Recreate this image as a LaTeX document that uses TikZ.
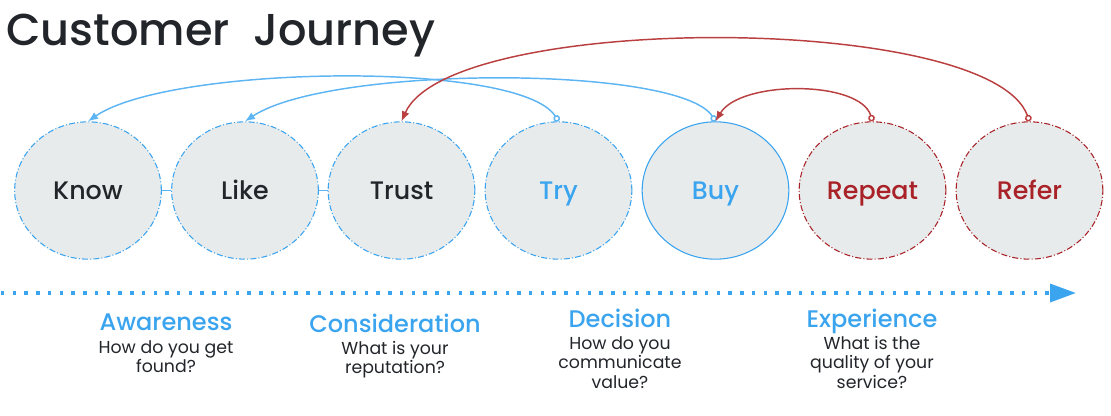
\documentclass[tikz,border=0pt]{standalone}
\usepackage{fontspec}
\setmainfont{Poppins}
\newfontfamily\medfont{Poppins Medium}
\usetikzlibrary{arrows.meta,shapes.geometric}

\definecolor{jblue}{HTML}{3BA4EF}
\definecolor{jlink}{HTML}{5DB5F3}
\definecolor{jred}{HTML}{A82228}
\definecolor{jredlink}{HTML}{BA3F40}
\definecolor{jfill}{HTML}{E8EBEC}
\definecolor{jdark}{HTML}{22252A}

\tikzset{
  stage/.style={ellipse, fill=jfill, draw=jblue, line width=0.8pt,
    minimum width=110pt, minimum height=103pt, inner sep=0pt,
    text height=13pt, text depth=0pt,
    font=\medfont\fontsize{19}{21}\selectfont, text=jdark},
  dashdot/.style={dash pattern=on 4.5pt off 1.6pt on 0.8pt off 1.6pt},
  redstage/.style={stage, dashdot, draw=jred, text=jred},
  bluelink/.style={jlink, line width=1.1pt,
    {Circle[open,length=5pt]}-{Latex[length=7.5pt,width=6pt]}},
  redlink/.style={bluelink, jredlink},
  timeline/.style={jblue, line width=2.6pt, dash pattern=on 2.6pt off 6.2pt,
    -{Triangle[length=19.5pt,width=13.5pt]}},
  phase/.style={anchor=base, inner sep=0pt, text=jblue,
    font=\medfont\fontsize{18}{20}\selectfont},
  question/.style={anchor=north, align=center, inner sep=0pt, text=jdark,
    font=\fontsize{13}{14.6}\selectfont}
}

\begin{document}
\begin{tikzpicture}[x=0.75pt, y=-0.75pt]
  \useasboundingbox (0,0) rectangle (1111,415);
  % TITLE
  \node[anchor=base west, inner sep=0pt, text=jdark,
    font=\medfont\fontsize{33.5}{40}\selectfont] (title) at (6,45) {Customer\ \ Journey};
  % STAGES
  % -- blue, dash dotted
  \node[stage, dashdot] (know)  at (88,190.5)    {Know};
  \node[stage, dashdot] (like)  at (245,190.5)   {Like};
  \node[stage, dashdot] (trust) at (401.5,190.5) {Trust};
  \node[stage, dashdot, text=jblue] (try) at (558.5,190.5) {Try};
  % -- blue, solid
  \node[stage, text=jblue] (buy) at (715.5,190.5) {Buy};
  % -- red, dash dotted
  \node[redstage] (repeat) at (872.5,190.5)  {Repeat};
  \node[redstage] (refer)  at (1029.5,190.5) {Refer};
  % -- short joints
  \draw[jlink, line width=1pt] (know) -- (like);
  \draw[jlink, line width=1pt] (like) -- (trust);
  % LOOPS BACK
  \draw[bluelink] (try.north) .. controls (520,60) and (170,65) .. (know.north);
  \draw[bluelink] (buy.north) .. controls (680,65) and (330,65) .. (like.north);
  \draw[redlink] (refer.north) .. controls (990,12) and (450,12) .. (trust.north);
  \draw[redlink] (repeat.north) .. controls (860,80) and (740,80) .. (buy.north);
  % TIMELINE
  \coordinate (tl start) at (1,293);
  \coordinate (tl end) at (1076,293);
  \draw[timeline] (tl start) -- (tl end);
  % PHASES
  \node[phase] (awareness) at (166,330.5) {Awareness};
  \node[question] (awareness q) at (166,340) {How do you get\\found?};
  \node[phase] (consideration) at (395,332.5) {Consideration};
  \node[question] (consideration q) at (395,341) {What is your\\reputation?};
  \node[phase] (decision) at (620,327.5) {Decision};
  \node[question] (decision q) at (620,336) {How do you\\communicate\\value?};
  \node[phase] (experience) at (872,327.5) {Experience};
  \node[question] (experience q) at (872,336) {What is the\\quality of your\\service?};
\end{tikzpicture}
\end{document}
